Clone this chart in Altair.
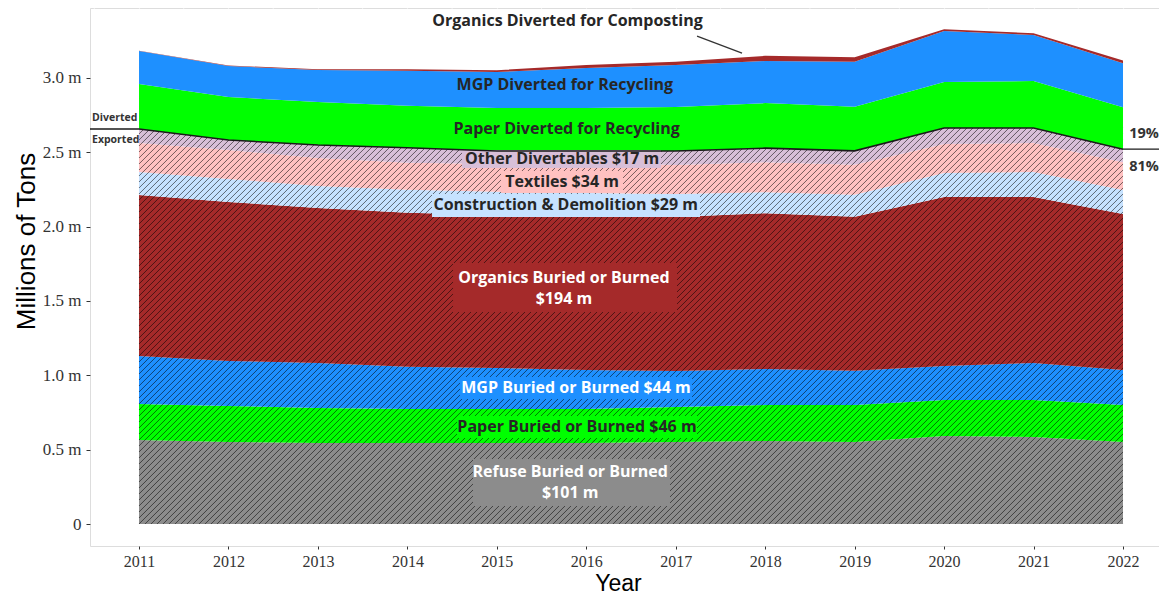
import altair as alt
import pandas as pd

# ---------------- data (millions of tons) ----------------
years = list(range(2011, 2023))

refuse_buried     = [0.565, 0.552, 0.545, 0.545, 0.545, 0.545, 0.552, 0.558, 0.552, 0.592, 0.585, 0.552]
paper_buried      = [0.242, 0.242, 0.235, 0.229, 0.229, 0.229, 0.235, 0.242, 0.249, 0.242, 0.249, 0.249]
mgp_buried        = [0.323, 0.303, 0.303, 0.283, 0.276, 0.262, 0.242, 0.242, 0.229, 0.229, 0.249, 0.235]
organics_buried   = [1.083, 1.069, 1.043, 1.036, 1.029, 1.029, 1.036, 1.049, 1.036, 1.137, 1.117, 1.049]
construction_demo = [0.155, 0.155, 0.148, 0.155, 0.155, 0.161, 0.155, 0.141, 0.148, 0.161, 0.168, 0.161]
textiles          = [0.195, 0.195, 0.188, 0.182, 0.188, 0.202, 0.195, 0.202, 0.202, 0.195, 0.195, 0.188]
other_divertables = [0.094, 0.067, 0.087, 0.101, 0.087, 0.081, 0.094, 0.094, 0.094, 0.108, 0.101, 0.087]
paper_diverted    = [0.303, 0.289, 0.289, 0.283, 0.289, 0.289, 0.296, 0.303, 0.296, 0.309, 0.316, 0.283]
mgp_diverted      = [0.222, 0.209, 0.215, 0.235, 0.242, 0.269, 0.283, 0.283, 0.303, 0.343, 0.309, 0.296]
organics_diverted = [0.002, 0.003, 0.005, 0.010, 0.012, 0.020, 0.022, 0.035, 0.030, 0.012, 0.012, 0.018]

layer_names = [
    "Refuse Buried or Burned", "Paper Buried or Burned", "MGP Buried or Burned",
    "Organics Buried or Burned", "Construction & Demolition", "Textiles",
    "Other Divertables", "Paper Diverted for Recycling", "MGP Diverted for Recycling",
    "Organics Diverted for Composting",
]
layer_values = [refuse_buried, paper_buried, mgp_buried, organics_buried, construction_demo,
                textiles, other_divertables, paper_diverted, mgp_diverted, organics_diverted]
layer_colors = ["#8c8c8c", "#00ff00", "#1e90ff", "#a52a2a", "#c6e2ff", "#ffc1c1",
                "#d8bfd8", "#00ff00", "#1e90ff", "#a52a2a"]
N_EXPORTED = 7

y_tick_values = [0, 0.5, 1.0, 1.5, 2.0, 2.5, 3.0]
minor_x = [2010.5 + i for i in range(12)]

# in-chart labels: (text, year, value of first line, colour)
labels = [
    ("Organics Diverted for Composting", 2015.79, 3.383, "#262626"),
    ("MGP Diverted for Recycling", 2015.76, 2.953, "#262626"),
    ("Paper Diverted for Recycling", 2015.78, 2.657, "#262626"),
    ("Other Divertables $17 m", 2015.73, 2.455, "#262626"),
    ("Textiles $34 m", 2015.73, 2.300, "#262626"),
    ("Construction & Demolition $29 m", 2015.77, 2.146, "#262626"),
    ("Organics Buried or Burned\n$194 m", 2015.75, 1.655, "#ffffff"),
    ("MGP Buried or Burned $44 m", 2015.885, 0.915, "#ffffff"),
    ("Paper Buried or Burned $46 m", 2015.896, 0.652, "#262626"),
    ("Refuse Buried or Burned\n$101 m", 2015.82, 0.350, "#ffffff"),
]
# label background boxes: (year_left, year_right, value_top, value_bottom, fill)
def _bx(l, r, t, b, fill):
    return (2011 + (l - 139) / 89.4545, 2011 + (r - 139) / 89.4545,
            (524 - t) / 148.67, (524 - b) / 148.67, fill)
boxes = [
    _bx(462, 661, 150, 168, "#d8bfd8"),
    _bx(501, 623, 171, 193, "#ffc1c1"),
    _bx(432, 700, 194, 217, "#c6e2ff"),
    _bx(453, 677, 263, 312, "#a52a2a"),
    _bx(460, 692, 377, 399, "#1e90ff"),
    _bx(457, 697, 416, 438, "#00ff00"),
    _bx(473, 670, 459, 506, "#8c8c8c"),
]
leader = [(2017.238, 3.282, 2017.741, 3.168)]

# ---------------- derived tables ----------------
rows = []
cum = [0.0] * len(years)
for k, (name, vals) in enumerate(zip(layer_names, layer_values)):
    for i, (yr, v) in enumerate(zip(years, vals)):
        lo = cum[i]
        hi = lo + v
        cum[i] = hi
        rows.append({"year": yr, "lo": lo, "hi": hi, "layer": name, "order": k})
df = pd.DataFrame(rows)
df_exp = df[df["order"] < N_EXPORTED]
df_div = df[df["order"] >= N_EXPORTED]

exported_total = [sum(layer_values[k][i] for k in range(N_EXPORTED)) for i in range(len(years))]
diverted_total = [sum(layer_values[k][i] for k in range(N_EXPORTED, len(layer_values))) for i in range(len(years))]
exp_df = pd.DataFrame({"year": years, "value": exported_total})
share_div = diverted_total[-1] / (diverted_total[-1] + exported_total[-1])
pct_div = f"{round(share_div * 100):d}%"
pct_exp = f"{100 - round(share_div * 100):d}%"

# ---------------- layout ----------------
PLOT_W, PLOT_H = 1069, 538
X0, X1 = 2010.452, 2022.4024
Y0, Y1 = -0.14798, 3.4708
xscale = alt.Scale(domain=[X0, X1], nice=False, zero=False)
yscale = alt.Scale(domain=[Y0, Y1], nice=False, zero=False)

LABEL_FONT = "Liberation Serif"
xaxis = alt.Axis(values=years, format="d", title="Year", labelFont=LABEL_FONT, labelFontSize=16,
                 labelColor="#333333", tickColor="#333333", tickSize=3, labelPadding=4,
                 domain=False, grid=True, gridColor="white", gridWidth=1.2,
                 titleFont="Liberation Sans", titleFontSize=23, titleFontWeight="normal",
                 titleColor="black", titleBaseline="alphabetic", titleX=528, titleY=44)
yaxis = alt.Axis(values=y_tick_values,
                 labelExpr="datum.value == 0 ? '0' : format(datum.value, '.1f') + ' m'",
                 title="Millions of Tons", labelFont=LABEL_FONT, labelFontSize=17,
                 labelColor="#333333", tickColor="#333333", tickSize=4, labelPadding=5,
                 domain=False, grid=True, gridColor="white", gridWidth=1.2,
                 titleFont="Liberation Sans", titleFontSize=26, titleFontWeight="normal",
                 titleColor="black", titleAngle=270, titleAlign="center",
                 titleBaseline="alphabetic", titleX=-56, titleY=233)

X = alt.X("year:Q", scale=xscale, axis=xaxis)
Y = alt.Y("value:Q", scale=yscale, axis=yaxis)

# ---------------- hatch texture: 45-degree strokes over the exported block ----------------
px_year = PLOT_W / (X1 - X0)
px_unit = PLOT_H / (Y1 - Y0)
xmin = (years[0] - X0) * px_year
xmax = (years[-1] - X0) * px_year
ymin = (Y1 - max(exported_total)) * px_unit
ymax = (Y1 - 0.0) * px_unit
HATCH_STEP = 6.0
hatch_rows = []
cc = xmin + ymin
while cc < xmax + ymax:
    xa = max(xmin, cc - ymax)
    xb = min(xmax, cc - ymin)
    if xb > xa:
        hatch_rows.append({"year": X0 + xa / px_year, "value": Y1 - (cc - xa) / px_unit,
                           "year2": X0 + xb / px_year, "value2": Y1 - (cc - xb) / px_unit})
    cc += HATCH_STEP
hatch_df = pd.DataFrame(hatch_rows)

# ---------------- layers ----------------
minor_grid = alt.Chart(pd.DataFrame({"year": minor_x})).mark_rule(
    color="white", strokeWidth=0.6).encode(x=X)

color_enc = alt.Color("layer:N", scale=alt.Scale(domain=layer_names, range=layer_colors), legend=None)

areas_exp = alt.Chart(df_exp).mark_area(interpolate="linear").encode(
    x=X, y=alt.Y("hi:Q", scale=yscale, axis=yaxis, stack=False), y2="lo:Q", color=color_enc)

hatch = alt.Chart(hatch_df).mark_rule(color="black", strokeWidth=0.9, opacity=0.6).encode(
    x=X, y=Y, x2="year2:Q", y2="value2:Q")

areas_div = alt.Chart(df_div).mark_area(interpolate="linear").encode(
    x=X, y=alt.Y("hi:Q", scale=yscale, axis=yaxis, stack=False), y2="lo:Q", color=color_enc)

box_df = pd.DataFrame(boxes, columns=["year", "year2", "value", "value2", "fill"])
box_layer = alt.Chart(box_df).mark_rect().encode(
    x=X, x2="year2:Q", y=Y, y2="value2:Q", fill=alt.Fill("fill:N", scale=None))

div_line = alt.Chart(exp_df).mark_line(color="#1a1a1a", strokeWidth=1.6).encode(x=X, y=Y)

left_df = exp_df.iloc[[0]]
right_df = exp_df.iloc[[-1]]
left_rule = alt.Chart(left_df).mark_rule(color="#1a1a1a", strokeWidth=1.6).encode(
    x=X, x2=alt.value(0), y=Y)
right_rule = alt.Chart(right_df).mark_rule(color="#1a1a1a", strokeWidth=1.3).encode(
    x=X, x2=alt.value(PLOT_W), y=Y)

small_font = dict(font="Open Sans", fontWeight="bold", color="#333333")
t_div = alt.Chart(left_df).mark_text(align="left", baseline="middle", fontSize=10.5, dy=-11,
                                     **small_font).encode(x=alt.value(2), y=Y, text=alt.value("Diverted"))
t_exp = alt.Chart(left_df).mark_text(align="left", baseline="middle", fontSize=10.5, dy=11,
                                     **small_font).encode(x=alt.value(2), y=Y, text=alt.value("Exported"))
t_p1 = alt.Chart(right_df).mark_text(align="center", baseline="middle", fontSize=14.5, dx=21, dy=-15,
                                     **small_font).encode(x=X, y=Y, text=alt.value(pct_div))
t_p2 = alt.Chart(right_df).mark_text(align="center", baseline="middle", fontSize=14.5, dx=21, dy=18,
                                     **small_font).encode(x=X, y=Y, text=alt.value(pct_exp))

lab_df = pd.DataFrame(labels, columns=["text", "year", "value", "color"])
label_layer = alt.Chart(lab_df).mark_text(
    font="Open Sans", fontWeight="bold", fontSize=16, align="center", baseline="middle",
    lineBreak="\n", lineHeight=21.5).encode(
    x=X, y=Y, text="text:N", color=alt.Color("color:N", scale=None))

lead_df = pd.DataFrame(leader, columns=["year", "value", "year2", "value2"])
lead_layer = alt.Chart(lead_df).mark_rule(color="#333333", strokeWidth=1.3).encode(
    x=X, y=Y, x2="year2:Q", y2="value2:Q")

chart = alt.layer(
    minor_grid, areas_exp, hatch, areas_div, box_layer, div_line, left_rule, right_rule,
    t_div, t_exp, t_p1, t_p2, label_layer, lead_layer,
).properties(
    width=PLOT_W, height=PLOT_H,
    padding={"left": 82, "top": 0, "right": 0, "bottom": 49},
    autosize=alt.AutoSizeParams(type="none"),
).configure_view(fill="#ebebeb", strokeWidth=0).configure(background="white")

chart.save("out.html", embed_options={"renderer": "svg", "actions": False})
